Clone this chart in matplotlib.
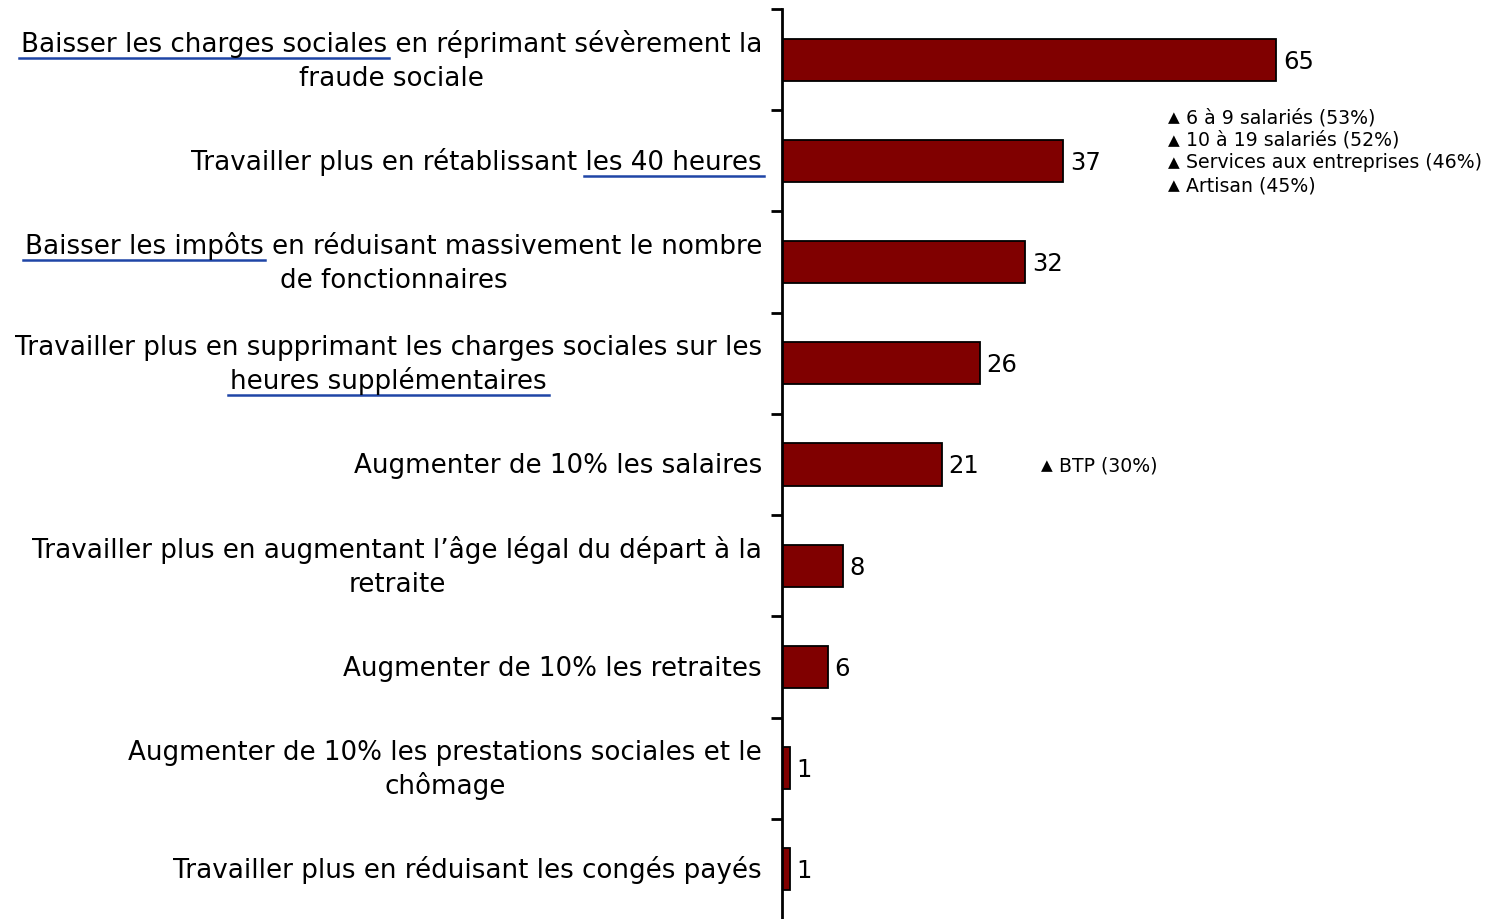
import matplotlib
matplotlib.use("Agg")
import matplotlib.pyplot as plt
from matplotlib.transforms import IdentityTransform
from matplotlib.font_manager import FontProperties

# ---- data -------------------------------------------------------------
categories = [
    "Baisser les charges sociales en réprimant sévèrement la\nfraude sociale",
    "Travailler plus en rétablissant les 40 heures",
    "Baisser les impôts en réduisant massivement le nombre\nde fonctionnaires",
    "Travailler plus en supprimant les charges sociales sur les\nheures supplémentaires",
    "Augmenter de 10% les salaires",
    "Travailler plus en augmentant l’âge légal du départ à la\nretraite",
    "Augmenter de 10% les retraites",
    "Augmenter de 10% les prestations sociales et le\nchômage",
    "Travailler plus en réduisant les congés payés",
]
values = [65, 37, 32, 26, 21, 8, 6, 1, 1]
underlined = [
    "Baisser les charges sociales",
    "les 40 heures",
    "Baisser les impôts",
    "heures supplémentaires",
    None, None, None, None, None,
]
notes_bar2 = [
    "6 à 9 salariés (53%)",
    "10 à 19 salariés (52%)",
    "Services aux entreprises (46%)",
    "Artisan (45%)",
]
notes_bar5 = ["BTP (30%)"]

# ---- style ------------------------------------------------------------
BAR_COLOR = "#800000"
LINE_BLUE = "#1f45a6"
FONT = "DejaVu Sans"
LABEL_SIZE = 18.8
VALUE_SIZE = 17.5
NOTE_SIZE = 13.6

W, H, DPI = 14.92, 9.2, 100
fig = plt.figure(figsize=(W, H), dpi=DPI)
ax = fig.add_axes([782 / 1492, -1 / 920, 1 - 782 / 1492, 911 / 920])

n = len(categories)
ypos = list(range(n))
ax.barh(ypos, values, height=0.415, color=BAR_COLOR, edgecolor="black",
        linewidth=1.3, zorder=2)
ax.set_xlim(0, 710 / 7.6)
ax.set_ylim(n - 0.5, -0.5)

for side in ("top", "right", "bottom"):
    ax.spines[side].set_visible(False)
ax.spines["left"].set_linewidth(2)
ax.xaxis.set_visible(False)
ax.set_yticks([])
ax.set_yticks([i - 0.5 for i in range(n + 1)], minor=True)
ax.tick_params(axis="y", which="minor", direction="out", length=8, width=2,
               labelleft=False)

fig.canvas.draw()
renderer = fig.canvas.get_renderer()
fp = FontProperties(family=FONT, size=LABEL_SIZE)


def text_width(s):
    w, h, d = renderer.get_text_width_height_descent(s, fp, ismath=False)
    return w


axis_x = ax.transAxes.transform((0, 0))[0]
right_x = axis_x - 20
line_gap = 34

for i, (label, val) in enumerate(zip(categories, values)):
    yc = ax.transData.transform((0, i))[1]
    lines = label.split("\n")
    widths = [text_width(l) for l in lines]
    block_w = max(widths)
    cx = right_x - block_w / 2
    nl = len(lines)
    for k, (line, lw) in enumerate(zip(lines, widths)):
        ly = yc + ((nl - 1) / 2 - k) * line_gap - 8
        fig.text(cx, ly, line, transform=IdentityTransform(), ha="center",
                 va="baseline", fontsize=LABEL_SIZE, family=FONT, color="black")
        u = underlined[i]
        if u and u in line:
            start = line.index(u)
            x0 = cx - lw / 2 + (text_width(line[:start]) if start else 0)
            x1 = x0 + text_width(u)
            fig.add_artist(plt.Line2D([x0 - 2, x1 + 2], [ly - 7, ly - 7],
                                      transform=IdentityTransform(),
                                      color=LINE_BLUE, linewidth=1.8))
    # value label
    bx, by = ax.transData.transform((val, i))
    fig.text(bx + 7, by - 8, str(val), transform=IdentityTransform(),
             ha="left", va="baseline", fontsize=VALUE_SIZE, family=FONT)


def draw_notes(notes, x_px, y_top_px):
    for k, note in enumerate(notes):
        y = H * DPI - (y_top_px + k * 22.5)
        fig.text(x_px, y, "▲", transform=IdentityTransform(), ha="left",
                 va="center", fontsize=11, family=FONT)
        fig.text(x_px + 18, y, note, transform=IdentityTransform(), ha="left",
                 va="center", fontsize=NOTE_SIZE, family=FONT)


draw_notes(notes_bar2, 1168, 118)
draw_notes(notes_bar5, 1041, 466)

fig.savefig("out.png", dpi=DPI)
